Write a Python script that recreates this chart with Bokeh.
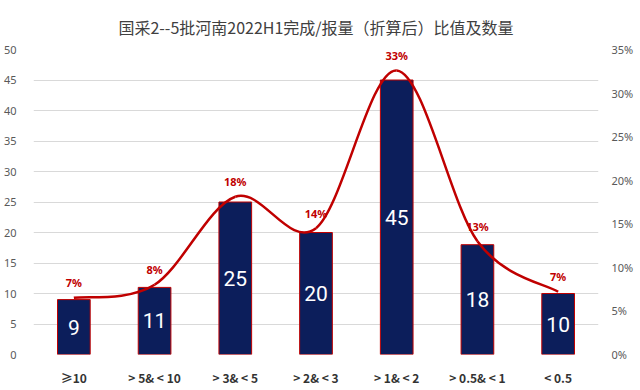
from bokeh.plotting import figure
from bokeh.models import (Range1d, LinearAxis, FixedTicker, NumeralTickFormatter,
                          ColumnDataSource)
from bokeh.core.properties import value
from bokeh.embed import file_html
from bokeh.resources import INLINE

# ---- data ----
categories = ["≥10", "> 5& < 10", "> 3& < 5", "> 2& < 3", "> 1& < 2", "> 0.5& < 1", "< 0.5"]
counts = [9, 11, 25, 20, 45, 18, 10]
shares = [0.065, 0.080, 0.181, 0.145, 0.326, 0.130, 0.072]
share_labels = ["7%", "8%", "18%", "14%", "33%", "13%", "7%"]
left_ticks = [0, 5, 10, 15, 20, 25, 30, 35, 40, 45, 50]
right_ticks = [0, 0.05, 0.10, 0.15, 0.20, 0.25, 0.30, 0.35]
title_text = "国采2--5批河南2022H1完成/报量（折算后）比值及数量"

xs = list(range(len(categories)))

BAR = "#0C1E5B"
RED = "#C00000"
GRID = "#D9D9D9"
TICK = "#595959"

p = figure(width=636, height=388, output_backend="svg", toolbar_location=None,
           x_range=Range1d(-0.5, len(categories) - 0.5), y_range=Range1d(0, 50),
           min_border_left=28, min_border_right=36, min_border_top=49, min_border_bottom=34,
           title=title_text, x_axis_location=None, y_axis_location=None)
p.outline_line_color = None
p.background_fill_color = "white"
p.border_fill_color = "white"

p.title.align = "center"
p.title.vertical_align = "bottom"
p.title.text_font = "Noto Sans CJK SC"
p.title.text_font_size = "16px"
p.title.text_font_style = "normal"
p.title.text_color = "#404040"
p.title.standoff = 10
p.title.padding = 6

p.extra_y_ranges = {"pct": Range1d(0, 0.35)}

# axes
yl = LinearAxis(ticker=FixedTicker(ticks=left_ticks))
yr = LinearAxis(y_range_name="pct", ticker=FixedTicker(ticks=right_ticks),
                formatter=NumeralTickFormatter(format="0%"))
xa = LinearAxis(ticker=FixedTicker(ticks=xs),
                major_label_overrides={i: c for i, c in zip(xs, categories)})
for ax in (yl, yr, xa):
    ax.axis_line_color = None
    ax.major_tick_line_color = None
    ax.minor_tick_line_color = None
    ax.major_label_text_font = "Noto Sans"
    ax.major_label_text_font_size = "11px"
    ax.major_label_text_color = TICK
yl.major_label_standoff = 11
yr.major_label_standoff = 7
xa.major_label_standoff = 8
xa.major_label_text_font = "Noto Sans CJK SC"
xa.major_label_text_font_size = "12px"
xa.major_label_text_font_style = "bold"
xa.major_label_text_color = "#333333"
p.add_layout(yl, "left")
p.add_layout(yr, "right")
p.add_layout(xa, "below")

p.xgrid.visible = False
p.ygrid.grid_line_color = GRID
p.ygrid.ticker = FixedTicker(ticks=left_ticks)

# bars
src = ColumnDataSource(dict(x=xs, top=counts, mid=[c / 2 for c in counts],
                            lab=[str(c) for c in counts]))
p.vbar(x="x", top="top", width=0.405, bottom=0, source=src,
       fill_color=BAR, line_color=RED, line_width=1)
p.text(x="x", y="mid", text="lab", source=src, text_align="center",
       text_baseline="middle", text_color="white", text_font_size="21px",
       text_font=value("Roboto"))

# smoothed line (Catmull-Rom -> cubic Bezier segments from the data points)
n = len(xs)
x0, y0, x1, y1, cx0, cy0, cx1, cy1 = [], [], [], [], [], [], [], []
for i in range(n - 1):
    ip = max(i - 1, 0)
    inn = min(i + 2, n - 1)
    x0.append(xs[i]); y0.append(shares[i])
    x1.append(xs[i + 1]); y1.append(shares[i + 1])
    cx0.append(xs[i] + (xs[i + 1] - xs[ip]) / 6)
    cy0.append(shares[i] + (shares[i + 1] - shares[ip]) / 6)
    cx1.append(xs[i + 1] - (xs[inn] - xs[i]) / 6)
    cy1.append(shares[i + 1] - (shares[inn] - shares[i]) / 6)
p.bezier(x0=x0, y0=y0, x1=x1, y1=y1, cx0=cx0, cy0=cy0, cx1=cx1, cy1=cy1,
         line_color=RED, line_width=2.5, y_range_name="pct")

lsrc = ColumnDataSource(dict(x=xs, y=shares, lab=share_labels))
p.text(x="x", y="y", text="lab", source=lsrc, y_range_name="pct",
       text_align="center", text_baseline="middle", y_offset=-15,
       text_color=RED, text_font_size="11px", text_font_style="bold",
       text_font=value("Noto Sans"))

open("out.html", "w").write(file_html(p, INLINE))
